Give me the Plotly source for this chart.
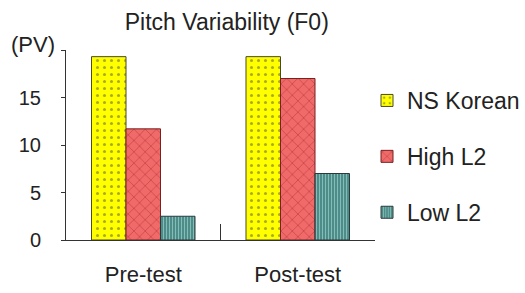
import plotly.graph_objects as go

categories = ["Pre-test", "Post-test"]
ns_korean = [19.3, 19.3]
high_l2 = [11.7, 17.0]
low_l2 = [2.5, 7.0]
y_tickvals = [0, 5, 10, 15, 20]
y_ticktext = ["0", "5", "10", "15", ""]

FONT = "Liberation Sans, Arial, sans-serif"

fig = go.Figure()
fig.add_trace(go.Bar(
    name="NS Korean", x=categories, y=ns_korean, legendgroup="a",
    marker=dict(color="#FFFF00", line=dict(color="#4a4a2a", width=1),
                pattern=dict(shape=".", fgcolor="#555533", bgcolor="#FFFF00", size=7, solidity=0.15)),
))
fig.add_trace(go.Bar(
    name="High L2", x=categories, y=high_l2, legendgroup="b",
    marker=dict(color="#F06A6A", line=dict(color="#7a2020", width=1),
                pattern=dict(shape="x", fgcolor="#8B1010", bgcolor="#F06A6A", size=8, solidity=0.15)),
))
fig.add_trace(go.Bar(
    name="Low L2", x=categories, y=low_l2, legendgroup="c",
    marker=dict(color="#4E8C8A", line=dict(color="#2a3a3a", width=1),
                pattern=dict(shape="|", fgcolor="#B8EEE6", bgcolor="#4E8C8A", size=3, solidity=0.35)),
))

fig.update_layout(
    width=525, height=293,
    margin=dict(l=66, r=150, t=50, b=53, autoexpand=False),
    paper_bgcolor="white", plot_bgcolor="white",
    barmode="group", bargap=0.33, bargroupgap=0,
    font=dict(family=FONT, color="#222222", size=20),
    title=dict(text="Pitch Variability (F0)", x=0.432, xanchor="center",
               y=1 - 22 / 293, yanchor="middle", xref="container", yref="container",
               font=dict(family=FONT, size=23, color="#222222")),
    legend=dict(x=367 / 525, xanchor="left", xref="container",
                y=1 - 79 / 293, yanchor="top", yref="container",
                font=dict(family=FONT, size=23, color="#222222"),
                tracegroupgap=23, traceorder="grouped", bgcolor="rgba(0,0,0,0)"),
    showlegend=True,
)
fig.update_xaxes(
    automargin=False,
    showline=True, linecolor="#333333", linewidth=1,
    ticks="inside", tickson="boundaries", ticklen=16, tickcolor="#333333",
    showgrid=False, tickfont=dict(family=FONT, size=22, color="#222222"),
    ticklabelstandoff=15,
)
fig.update_yaxes(
    automargin=False,
    range=[0, 20], tickvals=y_tickvals, ticktext=y_ticktext,
    showline=True, linecolor="#333333", linewidth=1,
    ticks="outside", ticklen=4, tickcolor="#333333",
    showgrid=False, zeroline=False,
    tickfont=dict(family=FONT, size=20, color="#222222"),
    ticklabelstandoff=16,
)
fig.add_annotation(text="(PV)", xref="paper", yref="paper", x=-0.03, y=1.03,
                   xanchor="right", yanchor="middle", showarrow=False,
                   font=dict(family=FONT, size=22, color="#222222"))

fig.write_html(
    "out.html",
    config={"displayModeBar": False},
    post_script="document.body.style.margin='0';document.body.style.overflow='hidden';",
)
